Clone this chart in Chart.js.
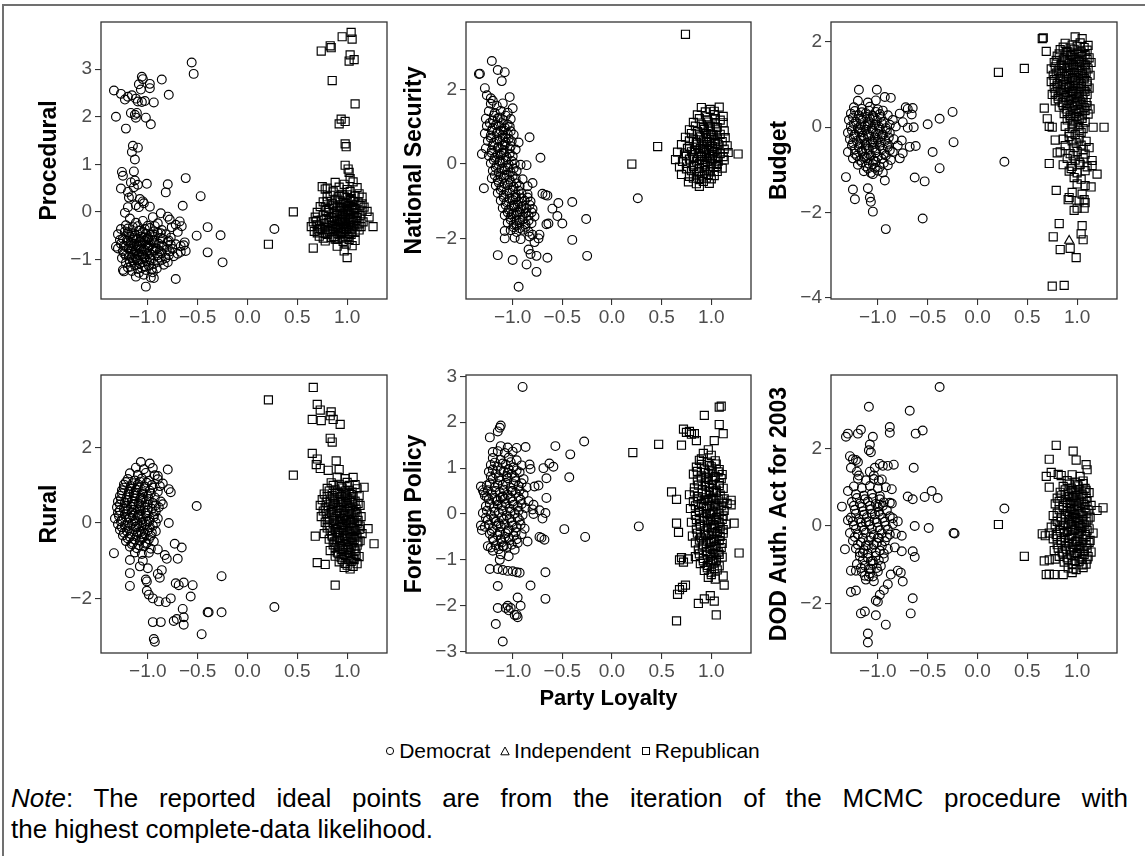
<!DOCTYPE html>
<html>
<head>
<meta charset="utf-8">
<script src="https://cdn.jsdelivr.net/npm/chart.js@4/dist/chart.umd.min.js"></script>
<style>
  body { margin: 0; background: #fff; }
  #page { position: relative; width: 1145px; height: 856px; overflow: hidden; background: #fff;
          font-family: "Liberation Sans", Arial, sans-serif; color: #000; }
  #page canvas { position: absolute; }
  .rule-top { position: absolute; left: 2px; top: 4px; right: 0; border-top: 2px solid #707070; }
  .rule-left { position: absolute; left: 2px; top: 4px; bottom: 0; border-left: 2px solid #707070; }
  #legend { position: absolute; left: 0; top: 739px; width: 1145px; text-align: center; font-size: 21px; white-space: nowrap; }
  #legend .key { margin: 0 2px; }
  #legend svg { vertical-align: 2px; margin-right: 4px; }
  #note { position: absolute; left: 11px; top: 783px; width: 1117px; font-size: 26px; line-height: 31px; }
  #note .full { text-align: justify; text-align-last: justify; }
</style>
</head>
<body>
<div id="page">
  <div class="rule-top"></div>
  <div class="rule-left"></div>
  <div id="legend">
    <span class="key"><svg width="10" height="10"><circle cx="5" cy="5" r="3.6" fill="none" stroke="#000" stroke-width="1"/></svg>Democrat</span>
    <span class="key"><svg width="10" height="10"><polygon points="5,1 9.2,8.8 0.8,8.8" fill="none" stroke="#000" stroke-width="1"/></svg>Independent</span>
    <span class="key"><svg width="10" height="10"><rect x="1.5" y="1.5" width="7" height="7" fill="none" stroke="#000" stroke-width="1"/></svg>Republican</span>
  </div>
  <div id="note">
    <div class="full"><i>Note</i>: The reported ideal points are from the iteration of the MCMC procedure with</div>
    <div>the highest complete-data likelihood.</div>
  </div>
</div>
<script>
// ideal points: x = party loyalty, y = dimension score

const xTicks = [-1, -0.5, 0, 0.5, 1];

const procTicks = [-1, 0, 1, 2, 3];
const natTicks = [-2, 0, 2];
const budTicks = [-4, -2, 0, 2];
const rurTicks = [-2, 0, 2];
const forTicks = [-3, -2, -1, 0, 1, 2, 3];
const dodTicks = [-2, 0, 2];

const procDem = [
  [-1.34,2.55],[-1.27,2.48],[-1.32,2.0],[-1.22,1.75],[-1.2,2.42],[-1.23,2.36],[-1.12,2.38],[-1.13,2.04],[-1.11,2.08],[-1.12,1.98],
  [-1.06,2.84],[-1.05,2.79],[-1.09,2.68],[-1.07,2.57],[-0.98,2.69],[-0.98,2.6],[-1.03,2.33],[-0.94,2.3],[-1.02,1.98],[-0.97,1.84],
  [-0.86,2.78],[-0.79,2.46],[-0.56,3.14],[-0.54,2.9],[-1.1,2.32],[-1.16,2.45],[-1.06,2.31],[-1.17,2.08],
  [-1.15,1.39],[-1.1,1.35],[-1.16,1.26],[-1.13,1.1],[-1.26,0.84],[-1.25,0.76],[-1.14,0.85],[-1.17,0.62],[-1.13,0.66],[-1.1,0.57],
  [-1.27,0.49],[-1.01,0.59],[-1.2,0.42],[-1.19,0.3],[-1.16,0.33],[-1.05,0.22],[-1.04,0.18],[-1.12,0.14],[-1.09,0.1],[-0.98,0.11],
  [-1.23,-0.02],[-0.8,0.58],[-0.82,0.41],[-0.62,0.71],[-0.65,0.13],[-0.47,0.33],[-0.87,-0.03],[-1.14,0.52],[-1.08,0.27],[-1.2,0.1],
  [-1.18,-0.14],[-1.05,-0.19],[-0.95,-0.11],[-0.78,-0.16],
  [-1.22,-0.28],[-1.12,-0.23],[-1.0,-0.29],[-0.9,-0.24],[-0.72,-0.27],
  [-1.27,-0.36],[-1.15,-0.32],[-1.08,-0.39],[-0.98,-0.34],[-0.86,-0.38],[-0.76,-0.32],
  [-1.3,-0.47],[-1.2,-0.43],[-1.13,-0.49],[-1.05,-0.42],[-0.97,-0.48],[-0.9,-0.44],[-0.82,-0.47],[-0.7,-0.42],
  [-1.25,-0.56],[-1.18,-0.52],[-1.11,-0.58],[-1.04,-0.53],[-0.99,-0.59],[-0.93,-0.52],[-0.85,-0.57],[-0.77,-0.54],
  [-1.27,-0.67],[-1.2,-0.62],[-1.14,-0.68],[-1.08,-0.63],[-1.02,-0.69],[-0.96,-0.61],[-0.89,-0.67],[-0.8,-0.63],[-0.72,-0.68],[-0.63,-0.64],
  [-1.3,-0.77],[-1.22,-0.72],[-1.16,-0.78],[-1.1,-0.73],[-1.04,-0.79],[-0.98,-0.71],[-0.91,-0.77],[-0.84,-0.73],[-0.75,-0.78],[-0.67,-0.72],
  [-1.24,-0.87],[-1.17,-0.82],[-1.11,-0.88],[-1.06,-0.83],[-1.0,-0.89],[-0.93,-0.81],[-0.86,-0.87],[-0.78,-0.83],[-0.7,-0.88],[-0.62,-0.82],
  [-1.26,-0.97],[-1.19,-0.92],[-1.12,-0.98],[-1.05,-0.93],[-0.98,-0.99],[-0.9,-0.91],[-0.82,-0.97],[-0.74,-0.93],
  [-1.22,-1.07],[-1.15,-1.02],[-1.08,-1.08],[-1.01,-1.03],[-0.94,-1.09],[-0.86,-1.01],[-0.8,-1.06],
  [-1.2,-1.17],[-1.13,-1.12],[-1.06,-1.18],[-0.99,-1.13],[-0.91,-1.19],[-0.84,-1.11],
  [-1.25,-1.22],[-1.24,-1.25],[-1.16,-1.24],[-1.09,-1.28],[-1.02,-1.22],[-0.95,-1.27],
  [-1.12,-1.36],[-1.04,-1.32],[-0.97,-1.38],
  [-1.14,-0.58],[-1.09,-0.7],[-1.03,-0.61],[-1.12,-0.8],[-1.06,-0.9],[-1.0,-0.75],[-1.17,-0.7],[-1.07,-0.52],[-0.95,-0.8],[-1.1,-1.0],
  [-1.03,-0.98],[-1.15,-0.9],[-1.0,-0.55],[-1.19,-0.48],
  [-1.23,-0.41],[-1.16,-0.45],[-1.09,-0.4],[-1.02,-0.46],[-0.94,-0.41],[-0.87,-0.45],
  [-1.21,-0.6],[-1.15,-0.55],[-1.08,-0.61],[-1.01,-0.56],[-0.94,-0.6],[-0.87,-0.55],[-0.79,-0.6],
  [-1.24,-0.71],[-1.17,-0.66],[-1.11,-0.7],[-1.05,-0.65],[-0.99,-0.7],[-0.93,-0.66],[-0.86,-0.71],[-0.77,-0.69],
  [-1.25,-0.82],[-1.19,-0.77],[-1.13,-0.83],[-1.07,-0.78],[-1.01,-0.83],[-0.95,-0.77],[-0.88,-0.82],[-0.81,-0.79],
  [-1.22,-0.92],[-1.16,-0.96],[-1.09,-0.91],[-1.03,-0.95],[-0.96,-0.9],[-0.89,-0.96],[-0.79,-0.91],
  [-1.18,-1.05],[-1.11,-1.01],[-1.05,-1.06],[-0.97,-1.02],[-0.9,-1.05],
  [-1.17,-1.15],[-1.1,-1.2],[-1.03,-1.15],[-0.96,-1.2],
  [-1.2,-0.35],[-1.1,-0.3],[-1.03,-0.36],[-0.93,-0.3],
  [-0.8,-0.1],[-0.68,-0.2],[-0.66,-0.3],[-0.4,-0.32],[-0.51,-0.5],[-0.27,-0.49],[-0.4,-0.85],[-0.25,-1.06],[-0.72,-1.41],[-1.02,-1.57],
  [-0.94,-1.39],[-1.32,-0.73],[-1.28,-0.59],[-0.64,-0.7],[-0.67,-0.84],[0.27,-0.36]
];
const procRep = [
  [1.04,3.77],[0.95,3.68],[1.05,3.63],[0.83,3.49],[0.84,3.45],[0.74,3.38],[1.03,3.3],[1.02,3.17],[1.07,3.2],[0.85,2.76],
  [1.08,2.27],[0.94,1.95],[0.92,1.85],[0.98,1.9],[0.98,1.43],[0.99,1.37],[0.98,0.98],[1.01,0.9],[1.02,0.83],[0.46,0.0],
  [0.21,-0.68],[1.26,-0.31],[0.66,-0.76],[1.0,-0.96],[0.75,0.53],[0.8,0.5],[1.03,0.7],
  [0.88,0.62],[0.97,0.58],[1.06,0.63],
  [0.78,0.48],[0.92,0.52],[1.0,0.47],[1.1,0.51],
  [0.86,0.42],[0.95,0.37],[1.03,0.43],[1.12,0.38],
  [0.8,0.32],[0.9,0.27],[0.97,0.33],[1.04,0.28],[1.15,0.31],
  [0.76,0.21],[0.85,0.17],[0.93,0.23],[0.99,0.18],[1.06,0.22],[1.15,0.17],
  [0.73,0.11],[0.82,0.07],[0.9,0.12],[0.96,0.08],[1.02,0.13],[1.08,0.07],[1.17,0.1],
  [0.7,-0.01],[0.79,0.03],[0.87,-0.03],[0.93,0.02],[0.98,-0.02],[1.04,0.03],[1.1,-0.03],[1.2,0.01],
  [0.68,-0.11],[0.76,-0.07],[0.84,-0.12],[0.9,-0.08],[0.95,-0.13],[1.0,-0.07],[1.06,-0.12],[1.13,-0.08],[1.22,-0.11],
  [0.66,-0.21],[0.74,-0.17],[0.81,-0.22],[0.87,-0.18],[0.93,-0.23],[0.98,-0.17],[1.03,-0.22],[1.09,-0.18],[1.16,-0.21],
  [0.64,-0.31],[0.7,-0.27],[0.78,-0.32],[0.85,-0.28],[0.91,-0.33],[0.96,-0.27],[1.01,-0.32],[1.07,-0.28],[1.14,-0.31],
  [0.67,-0.41],[0.75,-0.37],[0.82,-0.42],[0.88,-0.38],[0.94,-0.43],[0.99,-0.37],[1.05,-0.42],[1.12,-0.38],
  [0.72,-0.51],[0.8,-0.47],[0.87,-0.52],[0.93,-0.48],[0.98,-0.53],[1.04,-0.47],
  [0.78,-0.61],[0.88,-0.57],[0.96,-0.62],[1.02,-0.58],[1.08,-0.6],
  [0.9,-0.72],[0.99,-0.68],[1.05,-0.71],[0.97,-0.82],
  [0.95,-0.05],[1.0,0.05],[0.97,-0.25],[1.02,-0.15],[0.92,0.1],[1.05,0.15],[0.99,-0.35],[0.94,-0.45],[1.03,-0.05],[0.9,-0.2],
  [0.83,0.35],[0.92,0.32],[1.0,0.36],[1.08,0.33],
  [0.8,0.22],[0.88,0.25],[0.96,0.2],[1.03,0.24],[1.11,0.21],
  [0.78,0.1],[0.86,0.14],[0.94,0.09],[1.0,0.12],[1.06,0.09],[1.13,0.13],
  [0.81,-0.01],[0.89,0.02],[0.96,-0.04],[1.01,0.01],[1.07,-0.02],[1.15,0.02],
  [0.79,-0.16],[0.87,-0.11],[0.93,-0.16],[0.98,-0.11],[1.04,-0.16],[1.1,-0.12],
  [0.77,-0.25],[0.84,-0.21],[0.9,-0.26],[0.95,-0.21],[1.01,-0.26],[1.06,-0.21],[1.12,-0.25],
  [0.73,-0.35],[0.81,-0.36],[0.88,-0.31],[0.94,-0.35],[0.99,-0.31],[1.04,-0.36],[1.1,-0.31],
  [0.7,-0.44],[0.78,-0.45],[0.85,-0.41],[0.91,-0.46],[0.97,-0.41],[1.02,-0.45],[1.08,-0.42],
  [0.76,-0.55],[0.84,-0.54],[0.9,-0.58],[0.95,-0.55],[1.01,-0.52],
  [0.72,-0.3],[0.69,-0.2],[0.71,-0.38]
];
const procInd = [[0.92,-0.2]];

const natDem = [
  [-1.22,1.62],[-1.16,1.57],[-1.1,1.63],
  [-1.24,1.42],[-1.18,1.37],[-1.12,1.43],[-1.05,1.38],
  [-1.27,1.22],[-1.2,1.17],[-1.15,1.23],[-1.09,1.18],[-1.02,1.21],
  [-1.26,1.02],[-1.2,0.97],[-1.14,1.03],[-1.08,0.98],[-1.03,1.01],
  [-1.28,0.82],[-1.22,0.77],[-1.16,0.83],[-1.1,0.78],[-1.05,0.82],[-0.99,0.79],
  [-1.25,0.62],[-1.19,0.57],[-1.13,0.63],[-1.07,0.58],[-1.01,0.61],
  [-1.27,0.42],[-1.21,0.37],[-1.15,0.43],[-1.09,0.38],[-1.03,0.42],[-0.97,0.39],
  [-1.24,0.22],[-1.18,0.17],[-1.12,0.23],[-1.06,0.18],[-1.0,0.21],
  [-1.22,0.02],[-1.16,-0.03],[-1.1,0.03],[-1.04,-0.02],[-0.98,0.01],[-0.92,-0.02],
  [-1.2,-0.18],[-1.14,-0.23],[-1.08,-0.17],[-1.02,-0.22],[-0.96,-0.19],
  [-1.21,-0.38],[-1.15,-0.43],[-1.09,-0.37],[-1.03,-0.42],[-0.97,-0.39],[-0.9,-0.41],
  [-1.17,-0.58],[-1.11,-0.63],[-1.05,-0.57],[-0.99,-0.62],[-0.93,-0.59],
  [-1.15,-0.78],[-1.09,-0.83],[-1.03,-0.77],[-0.97,-0.82],[-0.91,-0.79],[-0.85,-0.81],
  [-1.12,-0.98],[-1.06,-1.03],[-1.0,-0.97],[-0.94,-1.02],[-0.88,-0.99],[-0.82,-1.01],
  [-1.1,-1.18],[-1.04,-1.23],[-0.98,-1.17],[-0.92,-1.22],[-0.86,-1.19],[-0.8,-1.21],
  [-1.08,-1.38],[-1.02,-1.43],[-0.96,-1.37],[-0.9,-1.42],[-0.84,-1.39],[-0.78,-1.41],
  [-1.05,-1.58],[-0.99,-1.63],[-0.93,-1.57],[-0.87,-1.62],[-0.81,-1.59],
  [-1.02,-1.78],[-0.96,-1.83],[-0.9,-1.77],[-0.84,-1.82],
  [-0.98,-1.98],[-0.92,-2.02],
  [-0.99,-1.1],[-0.95,-1.3],[-0.93,-1.5],[-0.97,-0.9],[-1.01,-1.35],[-0.91,-1.15],[-0.96,-1.65],
  [-1.12,0.9],[-1.1,0.5],[-1.13,0.1],[-1.08,-0.3],[-1.11,0.3],[-1.07,0.7],
  [-1.19,1.3],[-1.13,1.25],[-1.07,1.3],
  [-1.23,1.1],[-1.17,1.05],[-1.11,1.1],[-1.05,1.06],
  [-1.21,0.9],[-1.15,0.86],[-1.09,0.91],[-1.02,0.88],
  [-1.22,0.7],[-1.16,0.66],[-1.1,0.71],[-1.04,0.68],
  [-1.2,0.5],[-1.14,0.46],[-1.08,0.51],[-1.02,0.48],
  [-1.21,0.3],[-1.15,0.26],[-1.09,0.31],[-1.03,0.28],
  [-1.19,0.1],[-1.13,0.06],[-1.07,0.11],[-1.01,0.08],
  [-1.17,-0.1],[-1.11,-0.13],[-1.05,-0.09],[-0.99,-0.12],
  [-1.18,-0.3],[-1.12,-0.33],[-1.06,-0.29],[-1.0,-0.32],
  [-1.14,-0.5],[-1.08,-0.53],[-1.02,-0.49],[-0.96,-0.52],
  [-1.12,-0.7],[-1.06,-0.73],[-1.0,-0.69],[-0.94,-0.72],
  [-1.09,-0.9],[-1.03,-0.93],[-0.97,-0.89],[-0.91,-0.92],[-0.85,-0.9],
  [-1.07,-1.1],[-1.01,-1.13],[-0.95,-1.09],[-0.89,-1.12],[-0.83,-1.1],
  [-1.05,-1.3],[-0.99,-1.33],[-0.93,-1.29],[-0.87,-1.32],[-0.81,-1.3],
  [-1.02,-1.5],[-0.96,-1.53],[-0.9,-1.49],[-0.84,-1.52],
  [-0.99,-1.7],[-0.93,-1.73],[-0.87,-1.69],
  [-1.34,2.42],[-1.33,2.43],[-1.21,2.77],[-1.15,2.53],[-1.08,2.47],[-1.11,2.23],[-1.28,2.04],[-1.26,1.85],[-1.22,1.77],[-1.2,1.7],
  [-1.03,1.8],[-1.0,1.5],[-1.31,0.27],[-1.29,-0.65],[-0.83,0.72],[-0.94,0.58],[-0.72,0.17],[-0.86,-0.03],[-0.8,-0.51],[-0.85,-0.6],
  [-0.7,-0.8],[-0.67,-0.83],[-0.65,-0.85],[-0.54,-1.05],[-0.4,-1.02],[-0.6,-1.2],[-0.55,-1.4],[-0.5,-1.6],[-0.4,-2.04],[-0.26,-1.48],
  [-0.25,-2.47],[-0.66,-1.62],[-0.64,-1.6],[-0.73,-1.9],[-0.74,-2.0],[-0.8,-1.9],[-0.83,-1.95],[-0.78,-2.1],[-0.84,-2.3],[-0.82,-2.42],
  [-0.76,-2.47],[-0.65,-2.52],[-0.86,-2.7],[-0.76,-2.9],[-1.0,-2.58],[-0.94,-3.3],[-1.15,-2.45],[-1.08,-2.0],[-1.08,-1.8],[0.26,-0.92]
];
const natRep = [
  [0.9,1.52],[0.99,1.47],[1.08,1.53],
  [0.86,1.32],[0.95,1.27],[1.03,1.33],[1.12,1.28],
  [0.82,1.12],[0.9,1.07],[0.97,1.13],[1.04,1.08],[1.12,1.11],
  [0.78,0.92],[0.86,0.87],[0.93,0.93],[0.99,0.88],[1.05,0.92],[1.13,0.89],
  [0.74,0.72],[0.82,0.67],[0.89,0.73],[0.95,0.68],[1.0,0.72],[1.06,0.67],[1.14,0.71],
  [0.7,0.52],[0.78,0.47],[0.85,0.53],[0.91,0.48],[0.96,0.52],[1.01,0.47],[1.07,0.53],[1.16,0.49],
  [0.66,0.32],[0.73,0.27],[0.8,0.33],[0.87,0.28],[0.93,0.32],[0.98,0.27],[1.03,0.33],[1.09,0.28],[1.17,0.31],
  [0.64,0.12],[0.71,0.07],[0.78,0.13],[0.85,0.08],[0.91,0.12],[0.96,0.07],[1.01,0.13],[1.07,0.08],[1.13,0.11],
  [0.68,-0.08],[0.75,-0.13],[0.82,-0.07],[0.88,-0.12],[0.94,-0.08],[0.99,-0.13],[1.05,-0.07],[1.11,-0.11],
  [0.7,-0.28],[0.78,-0.33],[0.85,-0.27],[0.91,-0.32],[0.97,-0.28],[1.03,-0.31],
  [0.77,-0.48],[0.85,-0.53],[0.92,-0.47],[0.98,-0.52],[0.88,-0.6],
  [0.95,0.6],[1.0,0.8],[0.92,0.4],[1.02,0.3],[0.97,1.0],[0.9,0.2],[1.04,0.55],[0.99,0.15],
  [0.94,1.4],[1.03,1.42],
  [0.88,1.22],[0.96,1.18],[1.04,1.22],[1.09,1.18],
  [0.84,1.02],[0.92,0.98],[0.99,1.02],[1.06,0.98],
  [0.8,0.82],[0.88,0.78],[0.95,0.82],[1.02,0.78],[1.09,0.8],
  [0.78,0.62],[0.85,0.58],[0.92,0.62],[0.98,0.58],[1.04,0.62],[1.11,0.6],
  [0.76,0.42],[0.83,0.38],[0.89,0.42],[0.95,0.38],[1.01,0.42],[1.06,0.38],[1.13,0.4],
  [0.75,0.22],[0.82,0.18],[0.89,0.22],[0.95,0.18],[1.01,0.22],[1.06,0.18],[1.12,0.2],
  [0.75,0.02],[0.82,-0.02],[0.88,0.02],[0.94,-0.02],[1.0,0.02],[1.06,-0.01],
  [0.8,-0.18],[0.87,-0.22],[0.93,-0.18],[0.99,-0.21],[1.06,-0.2],
  [0.82,-0.38],[0.88,-0.42],[0.95,-0.38],[1.0,-0.4],
  [0.74,3.49],[0.46,0.47],[0.2,0.0],[1.27,0.27]
];
const natInd = [[0.92,0.4]];

const budDem = [
  [-1.2,0.62],[-1.1,0.58],[-1.02,0.63],
  [-1.24,0.47],[-1.16,0.43],[-1.08,0.48],[-1.0,0.42],[-0.72,0.47],[-0.7,0.43],
  [-1.27,0.32],[-1.19,0.28],[-1.12,0.33],[-1.05,0.27],[-0.98,0.31],[-0.9,0.28],[-0.78,0.32],
  [-1.29,0.17],[-1.22,0.13],[-1.15,0.18],[-1.08,0.12],[-1.01,0.16],[-0.94,0.13],[-0.85,0.17],[-0.75,0.12],
  [-1.27,0.02],[-1.2,-0.02],[-1.13,0.03],[-1.06,-0.03],[-0.99,0.01],[-0.92,-0.02],[-0.82,0.02],[-0.7,-0.01],
  [-1.3,-0.13],[-1.23,-0.17],[-1.16,-0.12],[-1.09,-0.18],[-1.02,-0.14],[-0.95,-0.17],[-0.88,-0.13],
  [-1.28,-0.28],[-1.21,-0.32],[-1.14,-0.27],[-1.07,-0.33],[-1.0,-0.29],[-0.93,-0.32],[-0.84,-0.28],[-0.76,-0.31],
  [-1.26,-0.43],[-1.19,-0.47],[-1.12,-0.42],[-1.05,-0.48],[-0.98,-0.44],[-0.9,-0.47],[-0.8,-0.43],[-0.68,-0.46],
  [-1.3,-0.58],[-1.23,-0.62],[-1.16,-0.57],[-1.09,-0.63],[-1.02,-0.59],[-0.94,-0.62],[-0.85,-0.58],[-0.75,-0.61],
  [-1.25,-0.73],[-1.18,-0.77],[-1.11,-0.72],[-1.04,-0.78],[-0.96,-0.74],[-0.87,-0.77],[-0.78,-0.73],
  [-1.2,-0.88],[-1.12,-0.92],[-1.05,-0.87],[-0.98,-0.93],[-0.9,-0.89],
  [-1.14,-1.03],[-1.07,-1.07],[-1.0,-1.02],[-0.95,-1.06],
  [-1.15,-0.2],[-1.1,0.05],[-1.05,-0.35],[-1.12,-0.5],[-1.08,0.2],[-1.18,-0.05],[-1.0,-0.15],[-1.13,-0.7],
  [-1.23,0.38],[-1.16,0.35],[-1.09,0.39],[-1.02,0.36],[-0.95,0.39],
  [-1.25,0.23],[-1.18,0.2],[-1.11,0.24],[-1.04,0.21],[-0.97,0.24],
  [-1.24,0.08],[-1.17,0.05],[-1.1,0.09],[-1.03,0.06],[-0.96,0.09],[-0.88,0.06],
  [-1.26,-0.07],[-1.19,-0.1],[-1.12,-0.06],[-1.05,-0.09],[-0.98,-0.06],[-0.91,-0.09],
  [-1.24,-0.22],[-1.17,-0.25],[-1.1,-0.21],[-1.03,-0.24],[-0.96,-0.21],[-0.89,-0.24],
  [-1.25,-0.37],[-1.18,-0.4],[-1.11,-0.36],[-1.04,-0.39],[-0.97,-0.36],[-0.9,-0.39],
  [-1.23,-0.52],[-1.16,-0.55],[-1.09,-0.51],[-1.02,-0.54],[-0.95,-0.51],[-0.88,-0.54],
  [-1.21,-0.67],[-1.14,-0.7],[-1.07,-0.66],[-1.0,-0.69],[-0.92,-0.66],
  [-1.16,-0.82],[-1.09,-0.85],[-1.02,-0.81],[-0.94,-0.84],
  [-1.1,-0.97],[-1.03,-0.95],
  [-1.19,0.88],[-1.01,0.88],[-0.93,0.71],[-0.87,0.69],[-1.32,-1.17],[-1.25,-1.46],[-1.23,-1.69],[-1.1,-1.43],[-1.08,-1.65],[-1.07,-1.75],
  [-1.05,-1.98],[-0.92,-2.39],[-0.55,-2.14],[-0.63,-1.18],[-0.53,-1.27],[-0.45,-0.58],[-0.38,-0.96],[-0.5,0.07],[-0.38,0.2],[-0.25,0.36],
  [-0.24,-0.35],[-0.62,-0.44],[-0.64,0.0],[-0.65,0.45],[-0.66,0.3],[-0.93,-1.25],[-1.05,-1.1],[0.27,-0.81]
];
const budRep = [
  [0.98,2.12],[1.05,2.08],
  [0.88,1.97],[0.95,1.93],[1.03,1.98],[1.11,1.92],
  [0.83,1.82],[0.9,1.78],[0.97,1.83],[1.04,1.77],[1.1,1.81],
  [0.8,1.67],[0.87,1.63],[0.93,1.68],[0.99,1.62],[1.05,1.66],[1.12,1.63],
  [0.77,1.52],[0.84,1.48],[0.9,1.53],[0.96,1.47],[1.02,1.51],[1.08,1.48],[1.14,1.52],
  [0.74,1.37],[0.81,1.33],[0.87,1.38],[0.93,1.32],[0.99,1.36],[1.05,1.33],[1.11,1.37],
  [0.76,1.22],[0.83,1.18],[0.89,1.23],[0.95,1.17],[1.01,1.21],[1.07,1.18],[1.13,1.22],
  [0.74,1.07],[0.8,1.03],[0.86,1.08],[0.92,1.02],[0.98,1.06],[1.04,1.03],[1.1,1.07],
  [0.77,0.92],[0.83,0.88],[0.89,0.93],[0.95,0.87],[1.01,0.91],[1.07,0.88],[1.12,0.92],
  [0.75,0.77],[0.81,0.73],[0.87,0.78],[0.93,0.72],[0.99,0.76],[1.05,0.73],[1.1,0.77],
  [0.78,0.62],[0.85,0.58],[0.91,0.63],[0.97,0.57],[1.03,0.61],[1.09,0.58],
  [0.82,0.47],[0.89,0.43],[0.95,0.48],[1.01,0.42],[1.07,0.46],[1.13,0.43],
  [0.87,0.32],[0.93,0.28],[0.99,0.33],[1.05,0.27],[1.11,0.31],
  [0.9,0.17],[0.96,0.13],[1.02,0.18],[1.08,0.12],
  [0.88,0.02],[0.95,-0.02],[1.01,0.03],[1.06,-0.03],
  [0.92,-0.13],[0.98,-0.17],[1.04,-0.12],
  [0.86,-0.28],[0.95,-0.32],[1.02,-0.27],[1.09,-0.33],
  [0.88,-0.43],[0.97,-0.47],[1.04,-0.42],[1.12,-0.48],
  [0.83,-0.58],[0.93,-0.62],[1.0,-0.57],[1.08,-0.63],
  [0.9,-0.73],[0.98,-0.77],[1.06,-0.72],[1.15,-0.78],
  [0.86,-0.88],[0.95,-0.92],[1.03,-0.87],[1.1,-0.93],
  [0.92,-1.03],[1.0,-1.07],[1.08,-1.02],
  [0.97,-1.18],[1.04,-1.22],[1.0,-1.33],[1.08,-1.37],
  [0.95,-1.53],[1.05,-1.57],[1.02,-1.73],[1.08,-1.77],[1.0,-1.9],
  [0.92,1.4],[0.98,1.1],[0.95,0.8],[1.02,1.55],[0.88,1.0],[1.0,0.6],[0.94,1.7],[1.05,1.25],
  [0.86,1.88],[0.93,1.86],[1.0,1.9],[1.07,1.87],
  [0.82,1.72],[0.89,1.75],[0.95,1.71],[1.01,1.74],[1.08,1.71],
  [0.79,1.57],[0.86,1.6],[0.92,1.56],[0.98,1.59],[1.04,1.56],[1.1,1.59],
  [0.78,1.42],[0.84,1.45],[0.9,1.41],[0.96,1.44],[1.02,1.41],[1.08,1.44],
  [0.79,1.27],[0.85,1.3],[0.91,1.26],[0.97,1.29],[1.03,1.26],[1.09,1.29],
  [0.77,1.12],[0.83,1.15],[0.89,1.11],[0.95,1.14],[1.01,1.11],[1.07,1.14],
  [0.8,0.97],[0.86,1.0],[0.92,0.96],[0.98,0.99],[1.04,0.96],[1.1,0.99],
  [0.78,0.82],[0.84,0.85],[0.9,0.81],[0.96,0.84],[1.02,0.81],[1.08,0.84],
  [0.81,0.67],[0.88,0.7],[0.94,0.66],[1.0,0.69],[1.06,0.66],
  [0.86,0.52],[0.92,0.55],[0.98,0.51],[1.04,0.54],[1.1,0.51],
  [0.9,0.37],[0.96,0.4],[1.02,0.36],[1.08,0.39],
  [0.93,0.22],[0.99,0.25],[1.05,0.21],
  [0.95,0.08],[1.02,-0.07],[0.92,-0.22],[0.99,-0.37],[1.06,-0.52],[0.96,-0.67],[1.02,-0.82],[0.94,-0.97],
  [0.65,2.08],[0.66,2.1],[0.69,1.78],[0.21,1.29],[0.47,1.38],[1.27,0.0],[1.16,0.0],[0.67,0.45],[0.7,0.2],[0.72,0.02],
  [0.75,0.0],[0.72,-0.85],[0.79,-1.48],[0.82,-2.26],[0.76,-2.57],[0.83,-2.87],[0.93,-2.84],[0.99,-3.06],[0.75,-3.73],[0.87,-3.71],
  [1.05,-2.31],[1.06,-2.64],[1.04,-2.5],[0.91,-1.7],[0.97,-1.95],[1.07,-1.9],[1.07,-1.7],[1.2,-1.1],[1.15,-0.9],[1.14,-1.4],
  [0.92,-1.65],[0.8,-0.6],[0.78,-0.3]
];
const budInd = [[0.92,-2.66]];

const rurDem = [
  [-1.07,1.62],[-0.98,1.58],
  [-1.12,1.47],[-1.04,1.43],[-0.95,1.46],
  [-1.18,1.32],[-1.1,1.28],[-1.02,1.33],[-0.93,1.27],
  [-1.2,1.17],[-1.13,1.13],[-1.06,1.18],[-0.99,1.12],[-0.9,1.16],
  [-1.24,1.02],[-1.17,0.98],[-1.1,1.03],[-1.03,0.97],[-0.96,1.01],[-0.88,0.98],
  [-1.26,0.87],[-1.19,0.83],[-1.12,0.88],[-1.05,0.82],[-0.98,0.86],[-0.9,0.83],
  [-1.28,0.72],[-1.21,0.68],[-1.14,0.73],[-1.07,0.67],[-1.0,0.71],[-0.93,0.68],
  [-1.3,0.57],[-1.23,0.53],[-1.16,0.58],[-1.09,0.52],[-1.02,0.56],[-0.95,0.53],[-0.87,0.57],
  [-1.31,0.42],[-1.24,0.38],[-1.17,0.43],[-1.1,0.37],[-1.03,0.41],[-0.96,0.38],[-0.89,0.42],
  [-1.3,0.27],[-1.23,0.23],[-1.16,0.28],[-1.09,0.22],[-1.02,0.26],[-0.94,0.23],
  [-1.33,0.12],[-1.26,0.08],[-1.19,0.13],[-1.12,0.07],[-1.05,0.11],[-0.98,0.08],[-0.9,0.12],
  [-1.3,-0.03],[-1.23,-0.07],[-1.16,-0.02],[-1.09,-0.08],[-1.02,-0.04],[-0.95,-0.07],
  [-1.28,-0.18],[-1.21,-0.22],[-1.14,-0.17],[-1.07,-0.23],[-1.0,-0.19],[-0.92,-0.22],
  [-1.25,-0.33],[-1.18,-0.37],[-1.11,-0.32],[-1.04,-0.38],[-0.97,-0.34],
  [-1.22,-0.48],[-1.15,-0.52],[-1.08,-0.47],[-1.01,-0.53],[-0.94,-0.49],
  [-1.18,-0.63],[-1.11,-0.67],[-1.04,-0.62],[-0.97,-0.68],
  [-1.13,-0.78],[-1.06,-0.82],[-0.99,-0.79],
  [-1.15,0.5],[-1.1,0.2],[-1.05,0.65],[-1.12,-0.1],[-1.08,0.35],[-1.18,0.15],[-1.02,0.05],[-1.14,0.8],[-1.06,-0.3],[-1.2,0.35],
  [-1.22,1.09],[-1.15,1.06],[-1.08,1.1],[-1.01,1.07],
  [-1.24,0.94],[-1.17,0.91],[-1.1,0.95],[-1.03,0.92],[-0.95,0.94],
  [-1.26,0.79],[-1.19,0.76],[-1.12,0.8],[-1.05,0.77],[-0.97,0.79],
  [-1.27,0.64],[-1.2,0.61],[-1.13,0.65],[-1.06,0.62],[-0.99,0.64],
  [-1.28,0.49],[-1.21,0.46],[-1.14,0.5],[-1.07,0.47],[-1.0,0.49],[-0.92,0.47],
  [-1.28,0.34],[-1.21,0.31],[-1.14,0.35],[-1.07,0.32],[-1.0,0.34],[-0.92,0.31],
  [-1.29,0.19],[-1.22,0.16],[-1.15,0.2],[-1.08,0.17],[-1.01,0.19],[-0.94,0.16],
  [-1.27,0.04],[-1.2,0.01],[-1.13,0.05],[-1.06,0.02],[-0.99,0.04],[-0.92,0.01],
  [-1.26,-0.11],[-1.19,-0.14],[-1.12,-0.1],[-1.05,-0.13],[-0.98,-0.11],
  [-1.24,-0.26],[-1.17,-0.29],[-1.1,-0.25],[-1.03,-0.28],[-0.96,-0.26],
  [-1.2,-0.41],[-1.13,-0.44],[-1.06,-0.4],[-0.99,-0.43],
  [-1.16,-0.56],[-1.09,-0.59],[-1.02,-0.55],
  [-1.34,-0.8],[-1.18,-0.98],[-1.18,-1.33],[-1.18,-1.67],[-1.05,-1.0],[-1.08,-1.15],[-1.0,-1.2],[-1.02,-1.5],[-1.01,-1.55],[-1.01,-1.8],
  [-0.99,-1.9],[-0.95,-2.0],[-0.89,-2.08],[-0.82,-2.1],[-0.77,-2.0],[-0.95,-2.63],[-0.87,-2.63],[-0.94,-3.08],[-0.93,-3.15],[-0.9,-0.7],
  [-0.9,-1.35],[-0.88,-1.45],[-0.86,-1.25],[-0.83,-0.85],[-0.81,-0.95],[-0.79,0.0],[-0.85,0.5],[-0.8,1.42],[-0.9,1.25],[-0.85,1.05],
  [-0.79,0.9],[-0.77,0.82],[-0.51,0.45],[-0.73,-0.55],[-0.66,-0.65],[-0.7,-0.95],[-0.72,-1.6],[-0.69,-1.65],[-0.64,-1.58],[-0.65,-2.28],
  [-0.64,-2.5],[-0.64,-2.7],[-0.74,-2.6],[-0.71,-2.55],[-0.55,-1.65],[-0.57,-1.95],[-0.46,-2.95],[-0.4,-2.37],[-0.39,-2.37],[-0.26,-1.41],
  [-0.26,-2.37],[0.27,-2.23]
];
const rurRep = [
  [0.9,1.22],[0.98,1.18],[1.06,1.21],
  [0.84,1.07],[0.92,1.03],[1.0,1.08],[1.08,1.02],
  [0.8,0.92],[0.88,0.88],[0.95,0.93],[1.02,0.87],[1.1,0.91],
  [0.77,0.77],[0.85,0.73],[0.92,0.78],[0.98,0.72],[1.04,0.76],[1.12,0.73],
  [0.75,0.62],[0.83,0.58],[0.9,0.63],[0.96,0.57],[1.02,0.61],[1.08,0.58],
  [0.73,0.47],[0.81,0.43],[0.88,0.48],[0.94,0.42],[1.0,0.46],[1.06,0.43],[1.13,0.47],
  [0.76,0.32],[0.84,0.28],[0.9,0.33],[0.96,0.27],[1.02,0.31],[1.08,0.28],
  [0.74,0.17],[0.82,0.13],[0.89,0.18],[0.95,0.12],[1.01,0.16],[1.07,0.13],[1.14,0.17],
  [0.78,0.02],[0.86,-0.02],[0.92,0.03],[0.98,-0.03],[1.04,0.01],[1.1,-0.02],
  [0.8,-0.13],[0.88,-0.17],[0.94,-0.12],[1.0,-0.18],[1.06,-0.14],[1.12,-0.17],
  [0.77,-0.28],[0.85,-0.32],[0.91,-0.27],[0.97,-0.33],[1.03,-0.29],[1.09,-0.32],[1.15,-0.28],
  [0.82,-0.43],[0.89,-0.47],[0.95,-0.42],[1.01,-0.48],[1.07,-0.44],[1.13,-0.47],
  [0.86,-0.58],[0.92,-0.62],[0.98,-0.57],[1.04,-0.63],[1.1,-0.59],
  [0.83,-0.73],[0.9,-0.77],[0.96,-0.72],[1.02,-0.78],[1.08,-0.74],
  [0.88,-0.88],[0.94,-0.92],[1.0,-0.87],[1.06,-0.93],[1.12,-0.89],
  [0.92,-1.03],[0.98,-1.07],[1.04,-1.02],[1.1,-1.08],
  [0.97,-1.18],[1.03,-1.22],
  [0.97,0.2],[1.0,-0.4],[0.95,0.55],[1.03,0.0],[0.92,-0.25],[0.99,0.8],[1.01,-0.7],[0.96,-0.05],
  [0.86,1.0],[0.94,0.97],[1.02,1.0],
  [0.82,0.85],[0.9,0.82],[0.98,0.85],[1.05,0.82],
  [0.8,0.7],[0.87,0.67],[0.94,0.7],[1.0,0.67],[1.06,0.7],
  [0.79,0.55],[0.86,0.52],[0.93,0.55],[0.99,0.52],[1.05,0.55],[1.11,0.52],
  [0.78,0.4],[0.85,0.37],[0.91,0.4],[0.97,0.37],[1.03,0.4],[1.09,0.37],
  [0.79,0.25],[0.86,0.22],[0.92,0.25],[0.98,0.22],[1.04,0.25],[1.1,0.22],
  [0.8,0.1],[0.87,0.07],[0.93,0.1],[0.99,0.07],[1.05,0.1],[1.11,0.07],
  [0.82,-0.05],[0.89,-0.08],[0.95,-0.05],[1.01,-0.08],[1.07,-0.05],[1.13,-0.08],
  [0.83,-0.2],[0.9,-0.23],[0.96,-0.2],[1.02,-0.23],[1.08,-0.2],
  [0.85,-0.35],[0.92,-0.38],[0.98,-0.35],[1.04,-0.38],[1.1,-0.35],
  [0.87,-0.5],[0.93,-0.53],[0.99,-0.5],[1.05,-0.53],[1.11,-0.5],
  [0.88,-0.65],[0.95,-0.68],[1.01,-0.65],[1.07,-0.68],
  [0.91,-0.8],[0.97,-0.83],[1.03,-0.8],[1.09,-0.83],
  [0.95,-0.97],[1.01,-0.95],[1.07,-0.97],[1.0,-1.12],[1.06,-1.15],
  [0.66,3.6],[0.21,3.27],[0.7,3.15],[0.73,3.0],[0.84,2.95],[0.83,2.85],[0.86,2.75],[0.93,2.62],[0.65,2.75],[0.74,2.72],
  [0.83,2.25],[0.85,2.15],[0.46,1.27],[0.65,1.85],[0.7,1.7],[0.69,1.55],[0.73,1.45],[0.81,1.4],[0.89,1.65],[0.92,1.42],
  [0.88,-1.65],[1.27,-0.55],[1.21,-0.15],[1.17,0.95],[0.68,-0.35],[0.7,-1.05],[0.78,-1.1]
];
const rurInd = [[0.92,0.05]];

const forDem = [
  [-1.15,1.37],[-1.08,1.33],[-1.0,1.36],
  [-1.2,1.22],[-1.12,1.18],[-1.04,1.23],[-0.96,1.17],
  [-1.22,1.07],[-1.15,1.03],[-1.07,1.08],[-0.99,1.02],[-0.91,1.06],
  [-1.24,0.92],[-1.17,0.88],[-1.09,0.93],[-1.01,0.87],[-0.93,0.91],
  [-1.2,0.77],[-1.13,0.73],[-1.05,0.78],[-0.97,0.72],[-0.89,0.76],
  [-1.26,0.62],[-1.18,0.58],[-1.1,0.63],[-1.02,0.57],[-0.94,0.61],[-0.86,0.58],
  [-1.29,0.47],[-1.21,0.43],[-1.13,0.48],[-1.05,0.42],[-0.97,0.46],[-0.89,0.43],
  [-1.24,0.32],[-1.16,0.28],[-1.08,0.33],[-1.0,0.27],[-0.92,0.31],[-0.84,0.28],
  [-1.27,0.17],[-1.19,0.13],[-1.11,0.18],[-1.03,0.12],[-0.95,0.16],[-0.87,0.13],
  [-1.3,0.02],[-1.22,-0.02],[-1.14,0.03],[-1.06,-0.03],[-0.98,0.01],[-0.9,-0.02],
  [-1.25,-0.13],[-1.17,-0.17],[-1.09,-0.12],[-1.01,-0.18],[-0.93,-0.14],
  [-1.28,-0.28],[-1.2,-0.32],[-1.12,-0.27],[-1.04,-0.33],[-0.96,-0.29],[-0.88,-0.32],
  [-1.23,-0.43],[-1.15,-0.47],[-1.07,-0.42],[-0.99,-0.48],[-0.91,-0.44],
  [-1.19,-0.58],[-1.11,-0.62],[-1.03,-0.57],[-0.95,-0.63],
  [-1.22,-0.73],[-1.14,-0.77],[-1.06,-0.72],[-0.98,-0.78],
  [-1.12,-0.88],[-1.04,-0.92],
  [-1.12,0.35],[-1.1,0.38],[-1.15,0.3],[-1.08,-0.5],[-1.05,0.9],[-1.14,-0.2],[-1.0,0.5],[-1.1,-0.7],
  [-1.18,1.12],[-1.1,1.1],[-1.02,1.13],
  [-1.2,0.97],[-1.12,0.95],[-1.04,0.98],[-0.96,0.95],
  [-1.22,0.82],[-1.14,0.8],[-1.06,0.83],[-0.98,0.8],
  [-1.23,0.67],[-1.15,0.65],[-1.07,0.68],[-0.99,0.65],[-0.91,0.67],
  [-1.25,0.52],[-1.17,0.5],[-1.09,0.53],[-1.01,0.5],[-0.93,0.52],
  [-1.26,0.37],[-1.18,0.35],[-1.1,0.38],[-1.02,0.35],[-0.94,0.37],
  [-1.23,0.22],[-1.15,0.2],[-1.07,0.23],[-0.99,0.2],[-0.91,0.22],
  [-1.26,0.07],[-1.18,0.05],[-1.1,0.08],[-1.02,0.05],[-0.94,0.07],
  [-1.27,-0.08],[-1.19,-0.1],[-1.11,-0.07],[-1.03,-0.1],[-0.95,-0.08],
  [-1.24,-0.23],[-1.16,-0.25],[-1.08,-0.22],[-1.0,-0.25],[-0.92,-0.23],
  [-1.21,-0.38],[-1.13,-0.4],[-1.05,-0.37],[-0.97,-0.4],
  [-1.2,-0.53],[-1.12,-0.55],[-1.04,-0.52],[-0.96,-0.55],
  [-1.17,-0.68],[-1.09,-0.7],[-1.01,-0.67],
  [-0.9,2.77],[-1.23,1.67],[-1.15,1.8],[-1.13,1.88],[-1.12,1.93],[-1.2,1.35],[-1.12,1.48],[-1.05,1.45],[-0.96,1.44],[-0.87,1.46],
  [-1.28,0.4],[-1.3,0.52],[-1.32,0.6],[-1.32,-0.25],[-1.31,-0.35],[-1.25,-0.7],[-1.2,-0.8],[-1.23,-1.2],[-1.15,-1.2],[-1.1,-1.22],
  [-1.05,-1.24],[-1.0,-1.25],[-0.96,-1.27],[-0.93,-1.28],[-1.13,-1.0],[-1.15,-1.57],[-1.15,-2.05],[-1.07,-2.05],[-1.04,-2.1],[-1.02,-2.05],
  [-0.98,-2.2],[-0.96,-2.2],[-0.95,-2.25],[-0.95,-1.82],[-0.92,-2.0],[-1.17,-2.4],[-1.1,-2.78],[-1.05,-2.0],[-0.82,-1.56],[-0.67,-1.85],
  [-0.67,-1.27],[-0.73,-0.5],[-0.71,-0.52],[-0.68,-0.56],[-0.48,-0.33],[-0.27,-0.5],[-0.7,-0.1],[-0.67,0.02],[-0.73,0.08],[-0.66,0.35],
  [-0.66,0.78],[-0.69,1.0],[-0.63,1.1],[-0.59,1.03],[-0.57,1.48],[-0.43,0.8],[-0.42,1.3],[-0.28,1.58],[-0.83,1.08],[-0.82,0.98],
  [-0.74,0.62],[-0.78,0.6],[-0.79,0.0],[-0.8,0.1],[-0.79,0.2],[-0.85,-0.6],[0.27,-0.27]
];
const forRep = [
  [0.92,1.32],[1.0,1.28],
  [0.88,1.17],[0.96,1.13],[1.04,1.16],
  [0.85,1.02],[0.93,0.98],[1.0,1.03],[1.08,0.97],
  [0.82,0.87],[0.9,0.83],[0.97,0.88],[1.04,0.82],[1.11,0.86],
  [0.86,0.72],[0.94,0.68],[1.01,0.73],[1.08,0.67],
  [0.83,0.57],[0.91,0.53],[0.98,0.58],[1.05,0.52],[1.12,0.56],
  [0.78,0.42],[0.87,0.38],[0.95,0.43],[1.02,0.37],[1.09,0.41],
  [0.82,0.27],[0.9,0.23],[0.97,0.28],[1.04,0.22],[1.11,0.26],[1.16,0.23],
  [0.79,0.12],[0.88,0.08],[0.95,0.13],[1.01,0.07],[1.07,0.11],[1.13,0.08],
  [0.84,-0.03],[0.92,-0.07],[0.99,-0.02],[1.05,-0.08],[1.12,-0.04],
  [0.8,-0.18],[0.89,-0.22],[0.96,-0.17],[1.02,-0.23],[1.08,-0.19],[1.15,-0.22],
  [0.85,-0.33],[0.93,-0.37],[1.0,-0.32],[1.06,-0.38],[1.12,-0.34],
  [0.81,-0.48],[0.9,-0.52],[0.97,-0.47],[1.03,-0.53],[1.09,-0.49],
  [0.84,-0.63],[0.92,-0.67],[0.99,-0.62],[1.05,-0.68],[1.11,-0.64],
  [0.87,-0.78],[0.95,-0.82],[1.01,-0.77],[1.07,-0.83],
  [0.84,-0.93],[0.92,-0.97],[0.99,-0.92],[1.05,-0.98],[1.11,-0.94],
  [0.89,-1.08],[0.96,-1.12],[1.02,-1.07],[1.08,-1.13],
  [0.93,-1.23],[1.0,-1.27],[1.06,-1.22],
  [0.97,-1.38],[1.04,-1.42],
  [0.98,0.0],[1.0,-0.6],[0.96,0.3],[1.03,-0.3],[0.95,0.8],[1.01,-1.0],[0.99,-0.15],[1.02,0.5],
  [0.9,1.08],[0.98,1.06],[1.05,1.09],
  [0.86,0.93],[0.94,0.91],[1.01,0.94],[1.07,0.92],
  [0.9,0.78],[0.97,0.76],[1.04,0.79],[1.1,0.77],
  [0.87,0.63],[0.94,0.61],[1.01,0.64],[1.08,0.62],
  [0.83,0.48],[0.91,0.46],[0.98,0.49],[1.05,0.47],
  [0.86,0.33],[0.93,0.31],[1.0,0.34],[1.07,0.32],[1.13,0.33],
  [0.84,0.18],[0.92,0.16],[0.98,0.19],[1.04,0.17],[1.1,0.18],
  [0.88,0.03],[0.95,0.01],[1.02,0.04],[1.08,0.02],
  [0.85,-0.12],[0.93,-0.14],[0.99,-0.11],[1.05,-0.13],[1.11,-0.12],
  [0.89,-0.27],[0.96,-0.29],[1.03,-0.26],[1.09,-0.28],
  [0.86,-0.42],[0.94,-0.44],[1.0,-0.41],[1.06,-0.43],[1.12,-0.42],
  [0.88,-0.57],[0.95,-0.59],[1.02,-0.56],[1.08,-0.58],
  [0.91,-0.72],[0.98,-0.74],[1.04,-0.71],[1.1,-0.73],
  [0.88,-0.87],[0.96,-0.89],[1.02,-0.86],[1.08,-0.88],
  [0.92,-1.02],[0.99,-1.04],[1.05,-1.01],
  [0.96,-1.17],[1.03,-1.19],[1.0,-1.32],
  [0.21,1.34],[0.47,1.52],[0.65,-2.33],[1.1,2.35],[1.08,2.33],[0.93,2.15],[1.08,1.95],[1.12,1.75],[0.7,1.5],[0.72,1.85],
  [0.75,1.78],[0.78,1.8],[0.8,1.74],[0.83,1.75],[0.85,1.6],[0.6,0.48],[0.65,0.32],[0.65,-0.2],[0.67,-0.4],[0.7,-0.95],
  [0.68,-1.0],[0.72,-1.05],[0.77,-0.98],[1.28,-0.85],[1.23,-0.2],[1.2,0.2],[1.2,0.3],[1.05,-2.2],[0.87,-1.95],[0.93,-1.85],
  [0.99,-1.78],[1.03,-1.9],[0.68,-1.65],[0.71,-1.6],[0.66,-1.75],[0.74,-1.55],[1.13,-1.55],[1.12,-1.35],[0.97,1.4],[1.03,1.6],
  [0.9,1.2]
];
const forInd = [[0.92,-0.5]];

const dodDem = [
  [-1.2,1.22],[-1.12,1.18],[-1.04,1.21],
  [-1.24,1.02],[-1.16,0.98],[-1.08,1.03],[-1.0,0.97],
  [-1.22,0.82],[-1.14,0.78],[-1.06,0.83],[-0.98,0.77],
  [-1.26,0.62],[-1.18,0.58],[-1.1,0.63],[-1.02,0.57],[-0.94,0.61],
  [-1.23,0.42],[-1.15,0.38],[-1.07,0.43],[-0.99,0.37],[-0.91,0.41],
  [-1.27,0.22],[-1.19,0.18],[-1.11,0.23],[-1.03,0.17],[-0.95,0.21],
  [-1.24,0.02],[-1.16,-0.02],[-1.08,0.03],[-1.0,-0.03],[-0.92,0.01],
  [-1.28,-0.18],[-1.2,-0.22],[-1.12,-0.17],[-1.04,-0.23],[-0.96,-0.19],[-0.88,-0.22],
  [-1.25,-0.38],[-1.17,-0.42],[-1.09,-0.37],[-1.01,-0.43],[-0.93,-0.39],
  [-1.22,-0.58],[-1.14,-0.62],[-1.06,-0.57],[-0.98,-0.63],[-0.9,-0.59],
  [-1.18,-0.78],[-1.1,-0.82],[-1.02,-0.77],[-0.94,-0.83],
  [-1.21,-0.98],[-1.13,-1.02],[-1.05,-0.97],[-0.97,-1.03],
  [-1.16,-1.18],[-1.08,-1.22],[-1.0,-1.17],
  [-1.12,-1.38],[-1.04,-1.42],
  [-1.1,-0.5],[-1.07,-1.1],[-1.05,-0.9],[-1.12,0.1],[-1.0,-0.3],[-1.15,-0.7],[-1.03,0.3],[-1.09,-1.3],
  [-1.21,0.72],[-1.13,0.69],[-1.05,0.72],[-0.98,0.69],
  [-1.24,0.52],[-1.16,0.49],[-1.08,0.52],[-1.0,0.49],
  [-1.22,0.32],[-1.14,0.29],[-1.06,0.32],[-0.98,0.29],
  [-1.25,0.12],[-1.17,0.09],[-1.09,0.12],[-1.01,0.09],[-0.93,0.11],
  [-1.22,-0.08],[-1.14,-0.11],[-1.06,-0.08],[-0.98,-0.11],[-0.9,-0.09],
  [-1.23,-0.28],[-1.15,-0.31],[-1.07,-0.28],[-0.99,-0.31],[-0.91,-0.29],
  [-1.2,-0.48],[-1.12,-0.51],[-1.04,-0.48],[-0.96,-0.51],
  [-1.18,-0.68],[-1.1,-0.71],[-1.02,-0.68],[-0.94,-0.71],
  [-1.15,-0.88],[-1.07,-0.91],[-0.99,-0.88],
  [-1.17,-1.08],[-1.09,-1.11],[-1.01,-1.08],[-1.13,-1.28],[-1.05,-1.3],
  [-0.38,3.58],[-1.09,3.07],[-0.68,2.97],[-1.17,2.48],[-0.88,2.55],[-0.88,2.4],[-1.05,2.3],[-1.08,2.1],[-1.09,1.95],[-1.07,1.9],
  [-1.3,2.38],[-1.32,2.3],[-1.2,2.38],[-0.62,2.38],[-0.55,2.46],[-1.28,1.8],[-1.25,1.72],[-1.22,1.7],[-1.2,1.65],[-1.27,1.5],
  [-1.21,1.4],[-1.19,1.3],[-1.08,1.4],[-1.03,1.5],[-0.98,1.6],[-0.95,1.55],[-0.9,1.55],[-0.84,1.58],[-1.04,1.3],[-0.99,1.17],
  [-0.96,1.2],[-0.64,1.5],[-0.92,1.0],[-0.86,0.95],[-1.36,0.5],[-0.7,0.76],[-0.65,0.69],[-0.53,0.75],[-0.46,0.9],[-0.4,0.72],
  [-0.63,0.0],[-0.49,-0.05],[-0.24,-0.18],[-0.23,-0.19],[-0.98,0.55],[-0.95,0.52],[-0.88,0.6],[-0.86,0.58],[-0.88,0.25],[-0.85,0.2],
  [-0.8,0.12],[-0.85,0.05],[-0.82,-0.2],[-0.76,-0.25],[-0.83,-0.55],[-0.76,-0.65],[-0.65,-0.65],[-0.63,-0.8],[-0.8,-1.15],[-0.77,-1.2],
  [-0.87,-1.25],[-0.75,-1.43],[-0.67,-2.25],[-0.65,-1.86],[-0.9,-1.5],[-0.94,-1.65],[-0.98,-1.77],[-1.02,-1.92],[-1.0,-1.95],[-1.02,-2.3],
  [-0.92,-2.54],[-1.17,-2.25],[-1.13,-2.2],[-1.1,-2.77],[-1.1,-3.0],[-1.27,-1.7],[-1.22,-1.66],[-1.27,-1.15],[-1.22,-1.15],[-1.33,-0.6],
  [-1.3,0.15],[-1.3,0.9],[0.27,0.45]
];
const dodRep = [
  [0.95,1.32],[1.03,1.28],
  [0.9,1.17],[0.98,1.13],[1.06,1.16],
  [0.86,1.02],[0.94,0.98],[1.01,1.03],[1.08,0.97],
  [0.83,0.87],[0.91,0.83],[0.98,0.88],[1.05,0.82],[1.12,0.86],
  [0.8,0.72],[0.88,0.68],[0.95,0.73],[1.02,0.67],[1.09,0.71],
  [0.78,0.57],[0.86,0.53],[0.93,0.58],[1.0,0.52],[1.07,0.56],[1.14,0.53],
  [0.82,0.42],[0.9,0.38],[0.97,0.43],[1.04,0.37],[1.11,0.41],
  [0.76,0.27],[0.84,0.23],[0.92,0.28],[0.99,0.22],[1.06,0.26],[1.13,0.23],
  [0.8,0.12],[0.88,0.08],[0.95,0.13],[1.02,0.07],[1.09,0.11],
  [0.74,-0.03],[0.83,-0.07],[0.91,-0.02],[0.98,-0.08],[1.05,-0.04],[1.12,-0.07],
  [0.72,-0.18],[0.79,-0.22],[0.87,-0.17],[0.94,-0.23],[1.01,-0.19],[1.08,-0.22],[1.16,-0.18],
  [0.76,-0.33],[0.84,-0.37],[0.92,-0.32],[0.99,-0.38],[1.06,-0.34],[1.13,-0.37],
  [0.8,-0.48],[0.88,-0.52],[0.95,-0.47],[1.02,-0.53],[1.09,-0.49],
  [0.77,-0.63],[0.85,-0.67],[0.93,-0.62],[1.0,-0.68],[1.07,-0.64],[1.14,-0.67],
  [0.82,-0.78],[0.9,-0.82],[0.97,-0.77],[1.04,-0.83],[1.11,-0.79],
  [0.87,-0.93],[0.95,-0.97],[1.02,-0.92],[1.09,-0.98],
  [0.91,-1.08],[0.99,-1.12],[1.06,-1.07],
  [0.97,0.3],[0.99,0.6],[0.95,-0.1],[1.01,0.15],[0.93,0.45],[1.0,-0.4],[0.96,0.75],[1.03,0.0],
  [0.92,1.08],[1.0,1.06],[1.06,1.09],
  [0.88,0.93],[0.95,0.91],[1.02,0.94],[1.09,0.92],
  [0.84,0.78],[0.92,0.76],[0.99,0.79],[1.06,0.77],
  [0.82,0.63],[0.9,0.61],[0.97,0.64],[1.04,0.62],[1.1,0.63],
  [0.86,0.48],[0.94,0.46],[1.01,0.49],[1.08,0.47],
  [0.8,0.33],[0.88,0.31],[0.95,0.34],[1.02,0.32],[1.09,0.33],
  [0.84,0.18],[0.92,0.16],[0.98,0.19],[1.05,0.17],[1.11,0.18],
  [0.78,0.03],[0.86,0.01],[0.94,0.04],[1.01,0.02],[1.07,0.03],
  [0.83,-0.12],[0.9,-0.14],[0.97,-0.11],[1.04,-0.13],[1.1,-0.12],
  [0.8,-0.27],[0.88,-0.29],[0.95,-0.26],[1.02,-0.28],[1.09,-0.27],
  [0.84,-0.42],[0.91,-0.44],[0.98,-0.41],[1.05,-0.43],[1.12,-0.42],
  [0.81,-0.57],[0.89,-0.59],[0.96,-0.56],[1.03,-0.58],[1.1,-0.57],
  [0.86,-0.72],[0.94,-0.74],[1.0,-0.71],[1.07,-0.73],
  [0.91,-0.87],[0.98,-0.89],[1.05,-0.86],
  [0.79,2.08],[0.96,1.93],[0.72,1.72],[0.99,1.7],[1.09,1.58],[1.1,1.45],[0.69,1.28],[0.72,1.0],[0.74,1.38],[0.81,1.33],
  [0.84,1.3],[1.26,0.47],[1.2,0.4],[0.47,-0.78],[0.21,0.04],[0.69,-1.25],[0.72,-1.24],[0.77,-1.25],[0.86,-1.25],[0.95,-1.2],
  [0.96,-1.1],[1.05,-1.0],[1.1,-0.85],[0.67,-0.9],[0.72,-0.87],[0.78,-0.85],[0.65,-0.2],[0.68,-0.25]
];
const dodInd = [[0.92,0.2]];

// panel grid: plot-area edges in page pixels
const colLeft = [101, 466, 831];
const colRight = [387, 751, 1117];
const rowTop = [22, 375];
const rowBottom = [299, 653];

const panels = [
  { title: 'Procedural', dem: procDem, rep: procRep, ind: procInd, yMin: -1.83, yMax: 3.99, yTicks: procTicks, col: 0, row: 0 },
  { title: 'National Security', dem: natDem, rep: natRep, ind: natInd, yMin: -3.63, yMax: 3.82, yTicks: natTicks, col: 1, row: 0 },
  { title: 'Budget', dem: budDem, rep: budRep, ind: budInd, yMin: -4.03, yMax: 2.47, yTicks: budTicks, col: 2, row: 0 },
  { title: 'Rural', dem: rurDem, rep: rurRep, ind: rurInd, yMin: -3.45, yMax: 3.93, yTicks: rurTicks, col: 0, row: 1 },
  { title: 'Foreign Policy', dem: forDem, rep: forRep, ind: forInd, yMin: -3.03, yMax: 3.03, yTicks: forTicks, col: 1, row: 1, xTitle: 'Party Loyalty' },
  { title: 'DOD Auth. Act for 2003', dem: dodDem, rep: dodRep, ind: dodInd, yMin: -3.27, yMax: 3.89, yTicks: dodTicks, col: 2, row: 1 }
];

Chart.defaults.font.family = '"Liberation Sans", Arial, sans-serif';

const panelFrame = {
  id: 'panelFrame',
  afterDatasetsDraw(chart) {
    const { ctx, chartArea: a } = chart;
    ctx.save();
    ctx.strokeStyle = '#333333';
    ctx.lineWidth = 1.3;
    ctx.strokeRect(a.left, a.top, a.right - a.left, a.bottom - a.top);
    ctx.restore();
  }
};

const toXY = pts => pts.map(p => ({ x: p[0], y: p[1] }));
const minus = s => s.replace('-', '\u2212');

const page = document.getElementById('page');
const AXIS_W = 101, PAD_TOP = 22, PAD_RIGHT = 12;

panels.forEach(p => {
  const L = colLeft[p.col], R = colRight[p.col];
  const T = rowTop[p.row], B = rowBottom[p.row];
  const axisH = p.xTitle ? 60 : 45;

  const cv = document.createElement('canvas');
  cv.width = R - L + AXIS_W + PAD_RIGHT;
  cv.height = B - T + PAD_TOP + axisH;
  cv.style.left = (L - AXIS_W) + 'px';
  cv.style.top = (T - PAD_TOP) + 'px';
  page.appendChild(cv);

  const marker = { pointBorderColor: '#000', pointBackgroundColor: 'rgba(0,0,0,0)', pointBorderWidth: 1.15, showLine: false };

  new Chart(cv, {
    type: 'scatter',
    data: {
      datasets: [
        { label: 'Democrat', data: toXY(p.dem), pointStyle: 'circle', pointRadius: 4.4, ...marker },
        { label: 'Republican', data: toXY(p.rep), pointStyle: 'rect', pointRadius: 5.7, ...marker },
        { label: 'Independent', data: toXY(p.ind), pointStyle: 'triangle', pointRadius: 5.2, ...marker }
      ]
    },
    options: {
      responsive: false,
      animation: false,
      events: [],
      layout: { padding: { top: PAD_TOP, right: PAD_RIGHT, left: 0, bottom: 0 } },
      plugins: { legend: { display: false }, tooltip: { enabled: false } },
      scales: {
        x: {
          type: 'linear',
          min: -1.47,
          max: 1.40,
          afterBuildTicks: s => { s.ticks = xTicks.map(v => ({ value: v })); },
          afterFit: s => { s.height = axisH; },
          border: { display: false },
          grid: { drawOnChartArea: false, drawTicks: true, tickLength: 6, color: '#333333', lineWidth: 1.1 },
          ticks: { color: '#4d4d4d', font: { size: 19 }, padding: 1, maxRotation: 0, minRotation: 0, autoSkip: false,
                   callback: v => minus(v.toFixed(1)) },
          title: {
            display: !!p.xTitle,
            text: p.xTitle || '',
            color: '#000',
            font: { size: 22, weight: 'bold' },
            padding: { top: 0, bottom: 1 }
          }
        },
        y: {
          type: 'linear',
          min: p.yMin,
          max: p.yMax,
          afterBuildTicks: s => { s.ticks = p.yTicks.map(v => ({ value: v })); },
          afterFit: s => { s.width = AXIS_W; },
          border: { display: false },
          grid: { drawOnChartArea: false, drawTicks: true, tickLength: 6, color: '#333333', lineWidth: 1.1 },
          ticks: { color: '#4d4d4d', font: { size: 19 }, padding: 3, autoSkip: false,
                   callback: v => minus(String(v)) },
          title: {
            display: true,
            text: p.title,
            color: '#000',
            font: { size: 23, weight: 'bold' },
            padding: { top: 36, bottom: 0 }
          }
        }
      }
    },
    plugins: [panelFrame]
  });
});
</script>
</body>
</html>
